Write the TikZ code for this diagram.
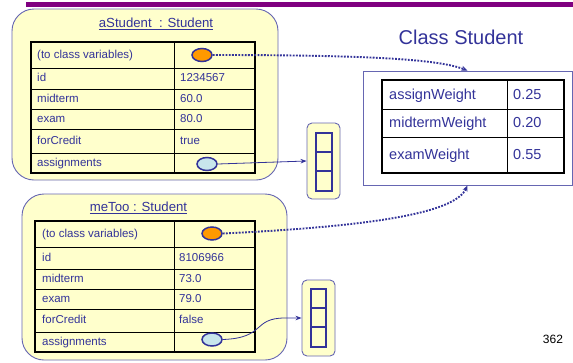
\documentclass[tikz,border=0pt]{standalone}
\usepackage{fontspec}
\setmainfont{Liberation Sans}
\usetikzlibrary{arrows.meta,shapes.geometric}
\definecolor{ink}{RGB}{51,51,153}
\definecolor{edge}{RGB}{102,102,178}
\definecolor{paper}{RGB}{255,255,204}
\definecolor{orangefill}{RGB}{255,153,0}
\definecolor{bluefill}{RGB}{200,230,236}
\definecolor{barpurple}{RGB}{128,0,128}
\begin{document}
\begin{tikzpicture}[x=1pt,y=-1pt,
  objbox/.style={draw=edge,fill=paper,line width=0.9pt,rounded corners=22pt},
  tbl/.style={draw=black,line width=1.6pt},
  tblin/.style={draw=black,line width=0.9pt},
  lbl/.style={anchor=west,inner sep=0pt,text=ink,font=\fontsize{11.5}{13}\selectfont,text height=8.3pt,text depth=2.2pt},
  clbl/.style={anchor=west,inner sep=0pt,text=ink,font=\fontsize{14.5}{16}\selectfont,text height=10.4pt,text depth=2.8pt},
  ttl/.style={inner sep=0pt,text=ink,font=\fontsize{13.2}{15}\selectfont},
  ref/.style={ellipse,draw=ink,line width=1.5pt,minimum width=20pt,minimum height=13pt,inner sep=0pt},
  arrbox/.style={draw=edge,fill=paper,line width=0.9pt,rounded corners=5pt,inner sep=0pt},
  arrcell/.style={draw=ink,line width=2.2pt},
  dotlink/.style={draw=ink,line width=1.9pt,dash pattern=on 1.8pt off 1.4pt,-{Stealth[length=6pt,width=5pt]}},
  link/.style={draw=ink,line width=0.8pt,-{Stealth[length=6pt,width=4.5pt]}}
]
\useasboundingbox (0,0) rectangle (573,362);
% top bar
\fill[barpurple] (26,2) rectangle (573,7);

% ---------- aStudent ----------
\draw[objbox] (12,9) rectangle (278,180);
\node[ttl] (t1) at (156,24) {\underline{aStudent~~: Student}};
\draw[tbl] (31,42) rectangle (255,173);
\foreach \y in {68,89,109,129,153} \draw[tblin] (31,\y) -- (255,\y);
\draw[tblin] (174,42) -- (174,173);
\node[lbl] (a1) at (37,55) {(to class variables)};
\node[lbl] (a2) at (37,78.5) {id};
\node[lbl] (a3) at (37,99) {midterm};
\node[lbl] (a4) at (37,119) {exam};
\node[lbl] (a5) at (37,141) {forCredit};
\node[lbl] (a6) at (37,163) {assignments};
\node[lbl] (av2) at (180,78.5) {1234567};
\node[lbl] (av3) at (180,99) {60.0};
\node[lbl] (av4) at (180,119) {80.0};
\node[lbl] (av5) at (180,141) {true};
\node[ref,fill=orangefill] (o1) at (202,55) {};
\node[ref,fill=bluefill] (b1) at (207,164) {};

% ---------- meToo ----------
\draw[objbox] (22,194) rectangle (287,360);
\node[ttl] (t2) at (138.5,208) {\underline{meToo : Student}};
\draw[tbl] (35,221) rectangle (255,352);
\foreach \y in {247,269,289,309,332} \draw[tblin] (35,\y) -- (255,\y);
\draw[tblin] (174,221) -- (174,352);
\node[lbl] (m1) at (42,234) {(to class variables)};
\node[lbl] (m2) at (42,258) {id};
\node[lbl] (m3) at (42,279) {midterm};
\node[lbl] (m4) at (42,299) {exam};
\node[lbl] (m5) at (42,320.5) {forCredit};
\node[lbl] (m6) at (42,342) {assignments};
\node[lbl] (mv2) at (179,258) {8106966};
\node[lbl] (mv3) at (179,279) {73.0};
\node[lbl] (mv4) at (179,299) {79.0};
\node[lbl] (mv5) at (179,320.5) {false};
\node[ref,fill=orangefill] (o2) at (212,233.5) {};
\node[ref,fill=bluefill] (b2) at (212,339.5) {};

% ---------- Class Student ----------
\node[inner sep=0pt,text=ink,font=\fontsize{20}{24}\selectfont] (ct) at (461,37) {Class Student};
\node[draw=edge,line width=0.9pt,fill=white,minimum width=209pt,minimum height=114pt,inner sep=0pt] (cls) at (467.5,128) {};
\draw[tbl,line width=1.5pt] (382,80) rectangle (564,173);
\draw[tblin] (382,109) -- (564,109);
\draw[tblin] (382,137) -- (564,137);
\draw[tblin] (507,80) -- (507,173);
\node[clbl] (c1) at (389,95.5) {assignWeight};
\node[clbl] (c2) at (389,123.5) {midtermWeight};
\node[clbl] (c3) at (389,155.5) {examWeight};
\node[clbl] (cv1) at (513,95.5) {0.25};
\node[clbl] (cv2) at (513,123.5) {0.20};
\node[clbl] (cv3) at (513,155.5) {0.55};

% ---------- arrays ----------
\node[arrbox,minimum width=33pt,minimum height=76pt] (arr1) at (323.5,161) {};
\draw[arrcell,fill=paper] (316,133) rectangle (332,191);
\draw[arrcell] (316,152) -- (332,152);
\draw[arrcell] (316,171) -- (332,171);
\node[arrbox,minimum width=33pt,minimum height=76pt] (arr2) at (318.5,318) {};
\draw[arrcell,fill=paper] (311,289) rectangle (326,347);
\draw[arrcell] (311,308) -- (326,308);
\draw[arrcell] (311,327) -- (326,327);

% ---------- connectors ----------
\draw[dotlink] (o1.east) .. controls (380,55) and (440,60) .. (cls.north);
\draw[dotlink] (o2.east) .. controls (380,226) and (455,212) .. (cls.south);
\draw[link] (b1.east) -- (arr1.west);
\draw[link] (b2.east) .. controls (266,338) and (252,318) .. (285,318) -- (arr2.west);

\node[inner sep=0pt,font=\fontsize{12}{14}\selectfont] (pg) at (553,339) {362};
\end{tikzpicture}
\end{document}
